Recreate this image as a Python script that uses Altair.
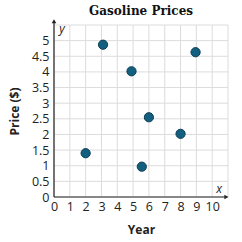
import altair as alt
import pandas as pd

years = [2.0, 3.1, 4.9, 5.55, 6.0, 8.0, 8.95]
prices = [1.4, 4.87, 4.02, 0.97, 2.55, 2.02, 4.63]
x_ticks = list(range(0, 11))
x_grid = list(range(0, 12))
y_ticks = [i * 0.5 for i in range(0, 11)]
y_grid = [i * 0.5 for i in range(0, 12)]

df = pd.DataFrame({"Year": years, "Price": prices})

xs = alt.Scale(domain=[0, 11], nice=False)
ys = alt.Scale(domain=[0, 5.5], nice=False)

xaxis = alt.Axis(
    title="Year", values=x_ticks, grid=False, domain=False, ticks=False, format="~g",
    labelFontSize=12.5, labelFont="Open Sans", labelColor="#222", labelPadding=3,
    titleFont="Open Sans", titleFontSize=12, titleFontWeight="bold", titleColor="#222",
    titlePadding=12, labelFlush=False, labelOverlap=False)
yaxis = alt.Axis(
    title="Price ($)", values=y_ticks, grid=False, domain=False, ticks=False, format="~g",
    labelFontSize=12.5, labelFont="Open Sans", labelColor="#222", labelPadding=5,
    titleFont="Open Sans", titleFontSize=12, titleFontWeight="bold", titleColor="#222",
    titlePadding=10, labelFlush=False, labelOverlap=False)

points = alt.Chart(df).mark_point(filled=True, size=85, color="#135f80", stroke="#0b3e55", strokeWidth=1, opacity=1).encode(
    x=alt.X("Year:Q", scale=xs, axis=xaxis),
    y=alt.Y("Price:Q", scale=ys, axis=yaxis),
)

gridx = alt.Chart(pd.DataFrame({"g": x_grid})).mark_rule(color="#dcdcdc", strokeWidth=1).encode(
    x=alt.X("g:Q", scale=xs, axis=xaxis))
gridy = alt.Chart(pd.DataFrame({"g": y_grid})).mark_rule(color="#dcdcdc", strokeWidth=1).encode(
    y=alt.Y("g:Q", scale=ys, axis=yaxis))

axx = alt.Chart(pd.DataFrame({"a": [0], "b": [10.85]})).mark_rule(color="#222", strokeWidth=1.2).encode(
    x=alt.X("a:Q", scale=xs, axis=xaxis), x2="b:Q", y=alt.value(172))
axy = alt.Chart(pd.DataFrame({"a": [0], "b": [5.6]})).mark_rule(color="#222", strokeWidth=1.2).encode(
    y=alt.Y("a:Q", scale=ys, axis=yaxis), y2="b:Q", x=alt.value(0))

arrx = alt.Chart(pd.DataFrame({"a": [10.9]})).mark_point(shape="triangle-right", filled=True, size=22, color="#222", opacity=1).encode(
    x=alt.X("a:Q", scale=xs, axis=xaxis), y=alt.value(172))
arry = alt.Chart(pd.DataFrame({"a": [5.62]})).mark_point(shape="triangle-up", filled=True, size=22, color="#222", opacity=1).encode(
    y=alt.Y("a:Q", scale=ys, axis=yaxis), x=alt.value(0))

labx = alt.Chart(pd.DataFrame({"t": ["x"]})).mark_text(fontStyle="italic", fontSize=12, font="Open Sans", color="#222").encode(
    text="t:N", x=alt.value(165), y=alt.value(164))
laby = alt.Chart(pd.DataFrame({"t": ["y"]})).mark_text(fontStyle="italic", fontSize=12, font="Open Sans", color="#222").encode(
    text="t:N", x=alt.value(8), y=alt.value(4))

title = alt.Chart(pd.DataFrame({"t": ["Gasoline Prices"]})).mark_text(
    font="DejaVu Serif", fontSize=12, fontWeight="bold", color="#111").encode(
    text="t:N", x=alt.value(87), y=alt.value(-14))

chart = alt.layer(gridx, gridy, points, axx, axy, arrx, arry, labx, laby, title).properties(
    width=174, height=172,
    autosize=alt.AutoSizeParams(type="none"),
    padding={"left": 54, "top": 25, "right": 14, "bottom": 45},
).configure_view(stroke=None)

chart.save("out.html", embed_options={"renderer": "svg", "actions": False})
